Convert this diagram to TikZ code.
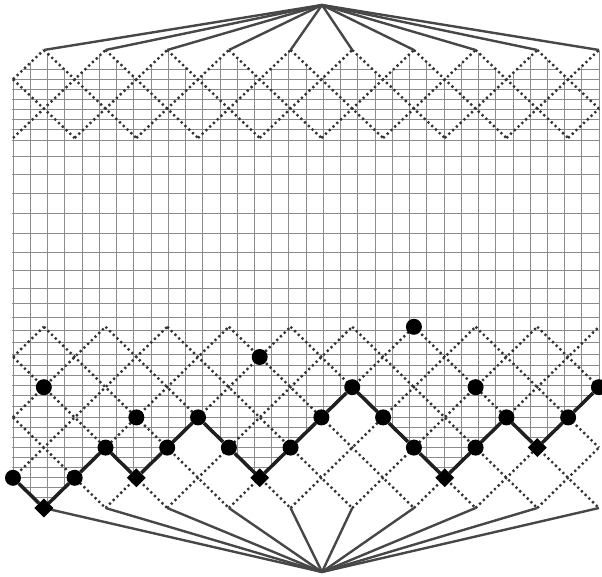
\documentclass[tikz,border=0pt]{standalone}
\usetikzlibrary{shapes.geometric}
\begin{document}
\begin{tikzpicture}[x=1pt,y=-1pt,
  gridline/.style={black!45, line width=0.55pt},
  dotline/.style={black!80, line width=2.4pt, line cap=butt, dash pattern=on 2.2pt off 3pt},
  spoke/.style={black!72, line width=2.4pt},
  pathedge/.style={black!88, line width=3.5pt},
  dot/.style={circle, fill=black, inner sep=0pt, minimum size=16pt},
  dia/.style={diamond, fill=black, inner sep=0pt, minimum size=19pt},
]
\useasboundingbox (0,0) rectangle (602,577);

% lattice coordinates
\foreach \k in {0,...,19} {
  \foreach \t in {0,...,3} { \coordinate (T-\k-\t) at ({13+30.84*\k},{50+29.33*\t}); }
  \foreach \b in {0,...,6} { \coordinate (B-\k-\b) at ({13+30.84*\k},{508-30.2*\b}); }
}
\coordinate (topapex) at (322,5);
\coordinate (botapex) at (322,572);

% grid, clipped between the top zigzag and the thick path
\begin{scope}
\clip ([xshift=-1pt]T-0-1) -- (T-1-0) -- (T-2-1) -- (T-3-0) -- (T-4-1) -- (T-5-0) -- (T-6-1)
  -- (T-7-0) -- (T-8-1) -- (T-9-0) -- (T-10-1) -- (T-11-0) -- (T-12-1) -- (T-13-0)
  -- (T-14-1) -- (T-15-0) -- (T-16-1) -- (T-17-0) -- (T-18-1) -- ([xshift=1pt]T-19-0)
  -- ([xshift=1pt]B-19-4) -- (B-18-3) -- (B-17-2) -- (B-16-3) -- (B-15-2) -- (B-14-1)
  -- (B-13-2) -- (B-12-3) -- (B-11-4) -- (B-10-3) -- (B-9-2) -- (B-8-1) -- (B-7-2)
  -- (B-6-3) -- (B-5-2) -- (B-4-1) -- (B-3-2) -- (B-2-1) -- (B-1-0) -- ([xshift=-1pt]B-0-1) -- cycle;
\foreach \i in {0,...,34} { \draw[gridline] ({13+17.235*\i},40) -- ({13+17.235*\i},515); }
\foreach \y in {69,79,89,99,109,119,129,140,156,174,193,213,233,252,270,288,303,317,330,342,354,365,375,385,395,406,417,427,437,447,457,467,477,487,497}
  { \draw[gridline] (5,\y) -- (602,\y); }
\end{scope}

% top band of dotted diagonals
\foreach \c in {-17,-15,...,1} {
  \pgfmathtruncatemacro\ka{max(0,-\c)}
  \pgfmathtruncatemacro\kb{min(19,3-\c)}
  \pgfmathtruncatemacro\la{\ka+\c}
  \pgfmathtruncatemacro\lb{\kb+\c}
  \draw[dotline] (T-\ka-\la) -- (T-\kb-\lb);
}
\foreach \c in {1,3,...,21} {
  \pgfmathtruncatemacro\ka{max(0,\c-3)}
  \pgfmathtruncatemacro\kb{min(19,\c)}
  \pgfmathtruncatemacro\la{\c-\ka}
  \pgfmathtruncatemacro\lb{\c-\kb}
  \draw[dotline] (T-\ka-\la) -- (T-\kb-\lb);
}
% bottom band of dotted diagonals
\foreach \c in {-17,-15,...,5} {
  \pgfmathtruncatemacro\ka{max(0,-\c)}
  \pgfmathtruncatemacro\kb{min(19,6-\c)}
  \pgfmathtruncatemacro\la{\ka+\c}
  \pgfmathtruncatemacro\lb{\kb+\c}
  \draw[dotline] (B-\ka-\la) -- (B-\kb-\lb);
}
\foreach \c in {1,3,...,23} {
  \pgfmathtruncatemacro\ka{max(0,\c-6)}
  \pgfmathtruncatemacro\kb{min(19,\c)}
  \pgfmathtruncatemacro\la{\c-\ka}
  \pgfmathtruncatemacro\lb{\c-\kb}
  \draw[dotline] (B-\ka-\la) -- (B-\kb-\lb);
}

% spokes to the apexes
\foreach \k in {1,3,...,19} {
  \draw[spoke] (topapex) -- (T-\k-0);
  \draw[spoke] (botapex) -- (B-\k-0);
}

% thick path with markers
\node[dot] (p0) at (B-0-1) {};
\node[dia] (p1) at (B-1-0) {};
\node[dot] (p2) at (B-2-1) {};
\node[dot] (p3) at (B-3-2) {};
\node[dia] (p4) at (B-4-1) {};
\node[dot] (p5) at (B-5-2) {};
\node[dot] (p6) at (B-6-3) {};
\node[dot] (p7) at (B-7-2) {};
\node[dia] (p8) at (B-8-1) {};
\node[dot] (p9) at (B-9-2) {};
\node[dot] (p10) at (B-10-3) {};
\node[dot] (p11) at (B-11-4) {};
\node[dot] (p12) at (B-12-3) {};
\node[dot] (p13) at (B-13-2) {};
\node[dia] (p14) at (B-14-1) {};
\node[dot] (p15) at (B-15-2) {};
\node[dot] (p16) at (B-16-3) {};
\node[dia] (p17) at (B-17-2) {};
\node[dot] (p18) at (B-18-3) {};
\node[dot] (p19) at (B-19-4) {};
\draw[pathedge] (p0) -- (p1) -- (p2) -- (p3) -- (p4) -- (p5) -- (p6) -- (p7) -- (p8) -- (p9)
  -- (p10) -- (p11) -- (p12) -- (p13) -- (p14) -- (p15) -- (p16) -- (p17) -- (p18) -- (p19);

% isolated markers
\node[dot] (q1) at (B-1-4) {};
\node[dot] (q2) at (B-4-3) {};
\node[dot] (q3) at (B-8-5) {};
\node[dot] (q4) at (B-13-6) {};
\node[dot] (q5) at (B-15-4) {};
\end{tikzpicture}
\end{document}
